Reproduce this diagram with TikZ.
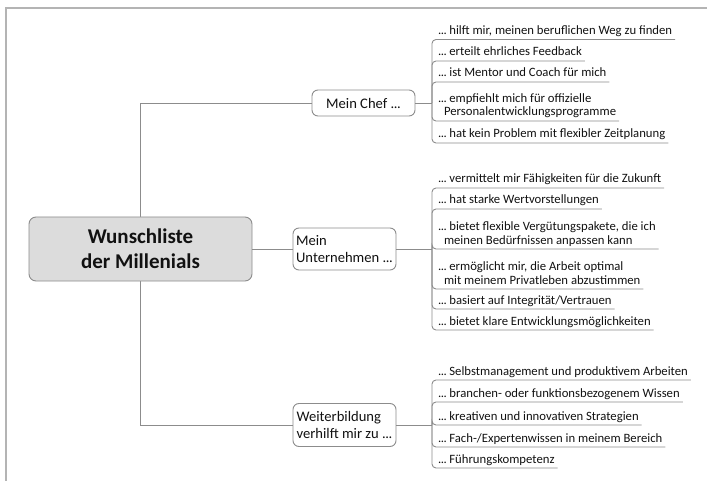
\documentclass[tikz,border=0pt]{standalone}
\usepackage{fontspec}
\setmainfont{Carlito}
\definecolor{linec}{HTML}{8C8C8C}
\definecolor{framec}{HTML}{B4B4B4}
\definecolor{txt}{HTML}{111111}
\definecolor{centerfill}{HTML}{DCDCDC}
\newcommand\ddd{.\kern-0.4pt.\kern-0.4pt.}
\newcommand\pre{\ddd\hspace{2.6pt}}
\begin{document}
\begin{tikzpicture}[x=1pt,y=-1pt,
  conn/.style={draw=linec, line width=0.9pt},
  uline/.style={draw=linec, line width=0.9pt, rounded corners=4pt},
  item/.style={anchor=south west, inner xsep=3pt, inner ysep=2pt, outer sep=0pt, text depth=3pt,
     font=\fontsize{12.7}{13.5}\selectfont, align=left, text=txt},
  branch/.style={draw=linec, line width=0.9pt, rounded corners=6pt, fill=white, minimum width=103pt,
     align=left, text=txt, font=\fontsize{14.6}{17}\selectfont, outer sep=0pt, inner sep=0pt},
  centerbox/.style={draw=linec, line width=0.9pt, rounded corners=7pt, fill=centerfill, minimum width=223pt,
     minimum height=64pt, align=center, text=txt, font=\fontsize{21}{25}\selectfont\bfseries, outer sep=0pt}
]
\useasboundingbox (0,0) rectangle (707,481);
\draw[framec, line width=1.5pt] (707,8) -- (6,8) -- (6,481);

% branch nodes
\node[branch, minimum height=26pt] (chef) at (363.5,103) {Mein Chef \ddd};
\node[branch, minimum height=42pt] (mu) at (344.5,249) {Mein\\Unternehmen \ddd};
\node[branch, minimum height=43pt] (wb) at (344.5,425) {Weiterbildung\\verhilft mir zu \ddd};

% trunk
\coordinate (tr) at (140,103);
\draw[conn] (chef.west) -- (tr) |- (wb.west);

% center
\node[centerbox] (c) at (140.5,249) {Wunschliste\\der Millenials};
\draw[conn] (c.east) -- (mu.west);

% stems
\coordinate (s1) at (432,103);
\coordinate (s2) at (432,249);
\coordinate (s3) at (432,425);
\draw[conn] (chef.east) -- (s1);
\draw[conn] (mu.east) -- (s2);
\draw[conn] (wb.east) -- (s3);

% Mein Chef items
\node[item] (a1) at (435,39.5) {\pre hilft mir, meinen beruflichen Weg zu finden};
\node[item] (a2) at (435,61) {\pre erteilt ehrliches Feedback};
\node[item] (a3) at (435,82) {\pre ist Mentor und Coach für mich};
\node[item] (a4) at (435,121) {\pre empfiehlt mich für offizielle\\\hspace*{6pt}Personalentwicklungsprogramme};
\node[item] (a5) at (435,143) {\pre hat kein Problem mit flexibler Zeitplanung};
\foreach \n in {a1,a2,a3,a4,a5} \draw[uline] (s1) |- (\n.south east);

% Mein Unternehmen items
\node[item] (b1) at (435,188) {\pre vermittelt mir Fähigkeiten für die Zukunft};
\node[item] (b2) at (435,209) {\pre hat starke Wertvorstellungen};
\node[item] (b3) at (435,249) {\pre bietet flexible Vergütungspakete, die ich\\\hspace*{6pt}meinen Bedürfnissen anpassen kann};
\node[item] (b4) at (435,289) {\pre ermöglicht mir, die Arbeit optimal\\\hspace*{6pt}mit meinem Privatleben abzustimmen};
\node[item] (b5) at (435,309) {\pre basiert auf Integrität/Vertrauen};
\node[item] (b6) at (435,330) {\pre bietet klare Entwicklungsmöglichkeiten};
\foreach \n in {b1,b2,b3,b4,b5,b6} \draw[uline] (s2) |- (\n.south east);

% Weiterbildung items
\node[item] (w1) at (435,380) {\pre Selbstmanagement und produktivem Arbeiten};
\node[item] (w2) at (435,402) {\pre branchen- oder funktionsbezogenem Wissen};
\node[item] (w3) at (435,425) {\pre kreativen und innovativen Strategien};
\node[item] (w4) at (435,447) {\pre Fach-/Expertenwissen in meinem Bereich};
\node[item] (w5) at (435,468) {\pre Führungskompetenz};
\foreach \n in {w1,w2,w3,w4,w5} \draw[uline] (s3) |- (\n.south east);
\end{tikzpicture}
\end{document}
